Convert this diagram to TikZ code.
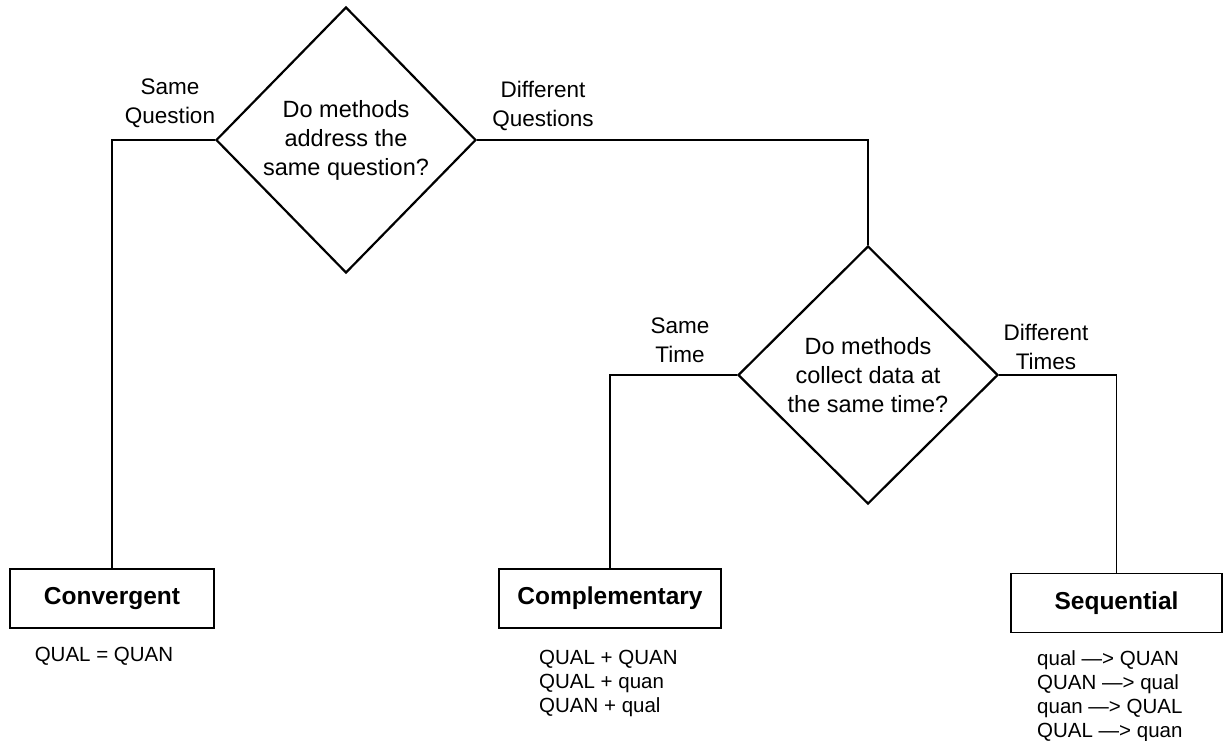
\documentclass[tikz,border=0pt]{standalone}
\usepackage{fontspec}
\setmainfont{Liberation Sans}
\usetikzlibrary{shapes.geometric}
\begin{document}
\begin{tikzpicture}[x=1pt,y=-1pt,
  decision/.style={draw, line width=2.2pt, shape=diamond, inner sep=0pt, align=center, font=\fontsize{23.5}{29}\selectfont},
  lbl/.style={align=center, font=\fontsize{22.5}{29}\selectfont, inner sep=0pt},
  result/.style={draw, line width=1.6pt, minimum height=59pt, inner sep=0pt, font=\fontsize{24.5}{28}\selectfont\bfseries},
  combo/.style={align=left, font=\fontsize{20.5}{24.2}\selectfont, inner sep=0pt},
  conn/.style={line width=1.3pt}]
\useasboundingbox[fill=white] (0,0) rectangle (1225,740);

\node[decision, minimum width=260pt, minimum height=266pt] (d1) at (346,140)
  {Do methods\\address the\\same question?};
\node[decision, minimum width=260pt, minimum height=258pt] (d2) at (868,375)
  {Do methods\\collect data at\\the same time?};

\node[result, minimum width=204pt] (conv) at (112,598.5) {Convergent};
\node[result, minimum width=222pt] (comp) at (610,598.5) {Complementary};
\node[result, minimum width=211pt] (seq) at (1116.5,603) {Sequential};

\node[lbl] (l1) at (170,103) {Same\\Question};
\node[lbl] (l2) at (543,106) {Different\\Questions};
\node[lbl] (l3) at (680,340) {Same\\Time};
\node[lbl] (l4) at (1046,347) {Different\\Times};

\node[combo, anchor=north] (c1) at (104,647) {QUAL = QUAN};
\node[combo, anchor=north west] (c2) at (539,650) {QUAL + QUAN\\QUAL + quan\\QUAN + qual};
\node[combo, anchor=north west] (c3) at (1037,650) {qual \textemdash> QUAN\\QUAN \textemdash> qual\\quan \textemdash> QUAL\\QUAL \textemdash> quan};

\draw[conn] (d1.west) -| (conv.north);
\draw[conn] (d1.east) -| (d2.north);
\draw[conn] (d2.west) -| (comp.north);
\draw[conn] (d2.east) -| (seq.north);
\end{tikzpicture}
\end{document}
